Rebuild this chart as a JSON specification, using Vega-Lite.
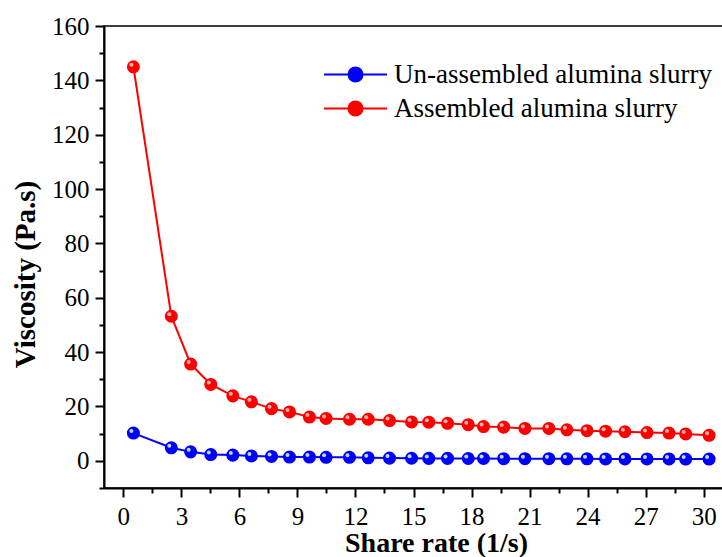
{
  "$schema": "https://vega.github.io/schema/vega-lite/v6.json",
  "width": 619,
  "height": 462,
  "autosize": {"type": "none"},
  "padding": {"left": 104, "top": 26, "right": 0, "bottom": 69},
  "background": "white",
  "config": {
    "font": "Liberation Serif",
    "view": {"stroke": "black", "strokeWidth": 1.5},
    "axis": {
      "grid": false,
      "domainColor": "black",
      "domainWidth": 2,
      "tickColor": "black",
      "tickWidth": 2,
      "labelColor": "black",
      "labelFontSize": 25,
      "labelFont": "Liberation Serif",
      "titleColor": "black",
      "titleFont": "Liberation Serif",
      "titleFontWeight": "bold",
      "titleFontSize": 29
    }
  },
  "data": {
    "values": [
      {"x": 0.52, "v": 10.2, "s": "Un-assembled alumina slurry"},
      {"x": 2.48, "v": 4.8, "s": "Un-assembled alumina slurry"},
      {"x": 3.48, "v": 3.3, "s": "Un-assembled alumina slurry"},
      {"x": 4.52, "v": 2.3, "s": "Un-assembled alumina slurry"},
      {"x": 5.66, "v": 2.1, "s": "Un-assembled alumina slurry"},
      {"x": 6.62, "v": 1.8, "s": "Un-assembled alumina slurry"},
      {"x": 7.66, "v": 1.6, "s": "Un-assembled alumina slurry"},
      {"x": 8.59, "v": 1.4, "s": "Un-assembled alumina slurry"},
      {"x": 9.62, "v": 1.4, "s": "Un-assembled alumina slurry"},
      {"x": 10.48, "v": 1.3, "s": "Un-assembled alumina slurry"},
      {"x": 11.69, "v": 1.3, "s": "Un-assembled alumina slurry"},
      {"x": 12.66, "v": 1.1, "s": "Un-assembled alumina slurry"},
      {"x": 13.76, "v": 1.0, "s": "Un-assembled alumina slurry"},
      {"x": 14.9, "v": 0.95, "s": "Un-assembled alumina slurry"},
      {"x": 15.79, "v": 0.9, "s": "Un-assembled alumina slurry"},
      {"x": 16.76, "v": 0.9, "s": "Un-assembled alumina slurry"},
      {"x": 17.83, "v": 0.85, "s": "Un-assembled alumina slurry"},
      {"x": 18.62, "v": 0.85, "s": "Un-assembled alumina slurry"},
      {"x": 19.66, "v": 0.8, "s": "Un-assembled alumina slurry"},
      {"x": 20.76, "v": 0.8, "s": "Un-assembled alumina slurry"},
      {"x": 22.0, "v": 0.8, "s": "Un-assembled alumina slurry"},
      {"x": 22.93, "v": 0.75, "s": "Un-assembled alumina slurry"},
      {"x": 23.97, "v": 0.75, "s": "Un-assembled alumina slurry"},
      {"x": 24.93, "v": 0.7, "s": "Un-assembled alumina slurry"},
      {"x": 25.93, "v": 0.7, "s": "Un-assembled alumina slurry"},
      {"x": 27.07, "v": 0.7, "s": "Un-assembled alumina slurry"},
      {"x": 28.21, "v": 0.7, "s": "Un-assembled alumina slurry"},
      {"x": 29.07, "v": 0.65, "s": "Un-assembled alumina slurry"},
      {"x": 30.28, "v": 0.65, "s": "Un-assembled alumina slurry"},
      {"x": 0.52, "v": 145, "s": "Assembled alumina slurry"},
      {"x": 2.48, "v": 53.2, "s": "Assembled alumina slurry"},
      {"x": 3.48, "v": 35.6, "s": "Assembled alumina slurry"},
      {"x": 4.52, "v": 28.1, "s": "Assembled alumina slurry"},
      {"x": 5.66, "v": 23.9, "s": "Assembled alumina slurry"},
      {"x": 6.62, "v": 21.7, "s": "Assembled alumina slurry"},
      {"x": 7.66, "v": 19.2, "s": "Assembled alumina slurry"},
      {"x": 8.59, "v": 18.0, "s": "Assembled alumina slurry"},
      {"x": 9.62, "v": 16.1, "s": "Assembled alumina slurry"},
      {"x": 10.48, "v": 15.6, "s": "Assembled alumina slurry"},
      {"x": 11.69, "v": 15.3, "s": "Assembled alumina slurry"},
      {"x": 12.66, "v": 15.3, "s": "Assembled alumina slurry"},
      {"x": 13.76, "v": 14.8, "s": "Assembled alumina slurry"},
      {"x": 14.9, "v": 14.3, "s": "Assembled alumina slurry"},
      {"x": 15.79, "v": 14.2, "s": "Assembled alumina slurry"},
      {"x": 16.76, "v": 13.8, "s": "Assembled alumina slurry"},
      {"x": 17.83, "v": 13.3, "s": "Assembled alumina slurry"},
      {"x": 18.62, "v": 12.6, "s": "Assembled alumina slurry"},
      {"x": 19.66, "v": 12.4, "s": "Assembled alumina slurry"},
      {"x": 20.76, "v": 11.9, "s": "Assembled alumina slurry"},
      {"x": 22.0, "v": 11.9, "s": "Assembled alumina slurry"},
      {"x": 22.93, "v": 11.4, "s": "Assembled alumina slurry"},
      {"x": 23.97, "v": 11.1, "s": "Assembled alumina slurry"},
      {"x": 24.93, "v": 10.9, "s": "Assembled alumina slurry"},
      {"x": 25.93, "v": 10.7, "s": "Assembled alumina slurry"},
      {"x": 27.07, "v": 10.4, "s": "Assembled alumina slurry"},
      {"x": 28.21, "v": 10.2, "s": "Assembled alumina slurry"},
      {"x": 29.07, "v": 9.9, "s": "Assembled alumina slurry"},
      {"x": 30.28, "v": 9.4, "s": "Assembled alumina slurry"}
    ]
  },
  "layer": [
    {
      "mark": {"type": "line", "strokeWidth": 2},
      "encoding": {
        "x": {
          "field": "x", "type": "quantitative",
          "scale": {"domain": [-1, 31], "nice": false, "zero": false},
          "axis": {"orient": "bottom", "values": [0, 3, 6, 9, 12, 15, 18, 21, 24, 27, 30], "tickSize": 9, "labelPadding": 7, "title": "Share rate (1/s)", "titleX": 332, "titleY": 63, "titleFontSize": 28, "titleBaseline": "alphabetic", "titleAnchor": "middle"}
        },
        "y": {
          "field": "v", "type": "quantitative",
          "scale": {"domain": [-10, 160], "nice": false, "zero": false},
          "axis": {"orient": "left", "values": [0, 20, 40, 60, 80, 100, 120, 140, 160], "tickSize": 9, "labelPadding": 6, "title": "Viscosity (Pa.s)", "titleX": -79, "titleY": 248, "titleAngle": -90, "titleBaseline": "middle", "titleAnchor": "middle"}
        },
        "color": {
          "field": "s", "type": "nominal",
          "scale": {"domain": ["Un-assembled alumina slurry", "Assembled alumina slurry"], "range": ["#0000ff", "#ff0000"]},
          "legend": {
            "orient": "none",
            "legendX": 238,
            "legendY": 35,
            "title": null,
            "padding": 0,
            "symbolType": "M-4.5,0H4.5M-1,0A1,1 0 1,1 1,0A1,1 0 1,1 -1,0Z",
            "symbolSize": 196,
            "symbolStrokeWidth": 2,
            "labelFontSize": 27,
            "labelFont": "Liberation Serif",
            "labelColor": "black",
            "labelLimit": 0,
            "labelOffset": 25,
            "rowPadding": 6,
            "encode": {
              "symbols": {
                "update": {
                  "fill": {"scale": "color", "field": "value"},
                  "stroke": {"scale": "color", "field": "value"},
                  "opacity": {"value": 1}
                }
              }
            }
          }
        }
      }
    },
    {
      "mark": {"type": "point", "filled": true, "size": 170, "opacity": 1},
      "encoding": {
        "x": {"field": "x", "type": "quantitative", "axis": {"orient": "bottom", "values": [1.5, 4.5, 7.5, 10.5, 13.5, 16.5, 19.5, 22.5, 25.5, 28.5], "labels": false, "tickSize": 5, "domain": false, "title": null}},
        "y": {"field": "v", "type": "quantitative", "axis": {"orient": "left", "values": [-10, 10, 30, 50, 70, 90, 110, 130, 150], "labels": false, "tickSize": 5, "domain": false, "title": null}},
        "color": {"field": "s", "type": "nominal"}
      }
    },
    {
      "mark": {"type": "point", "filled": true, "size": 16, "opacity": 1, "xOffset": -2, "yOffset": -2},
      "encoding": {
        "x": {"field": "x", "type": "quantitative", "axis": null},
        "y": {"field": "v", "type": "quantitative", "axis": null},
        "fill": {
          "field": "s", "type": "nominal",
          "scale": {"domain": ["Un-assembled alumina slurry", "Assembled alumina slurry"], "range": ["#b8dcff", "#ffb0b0"]},
          "legend": null
        }
      }
    }
  ],
  "resolve": {"axis": {"x": "independent", "y": "independent"}}
}
